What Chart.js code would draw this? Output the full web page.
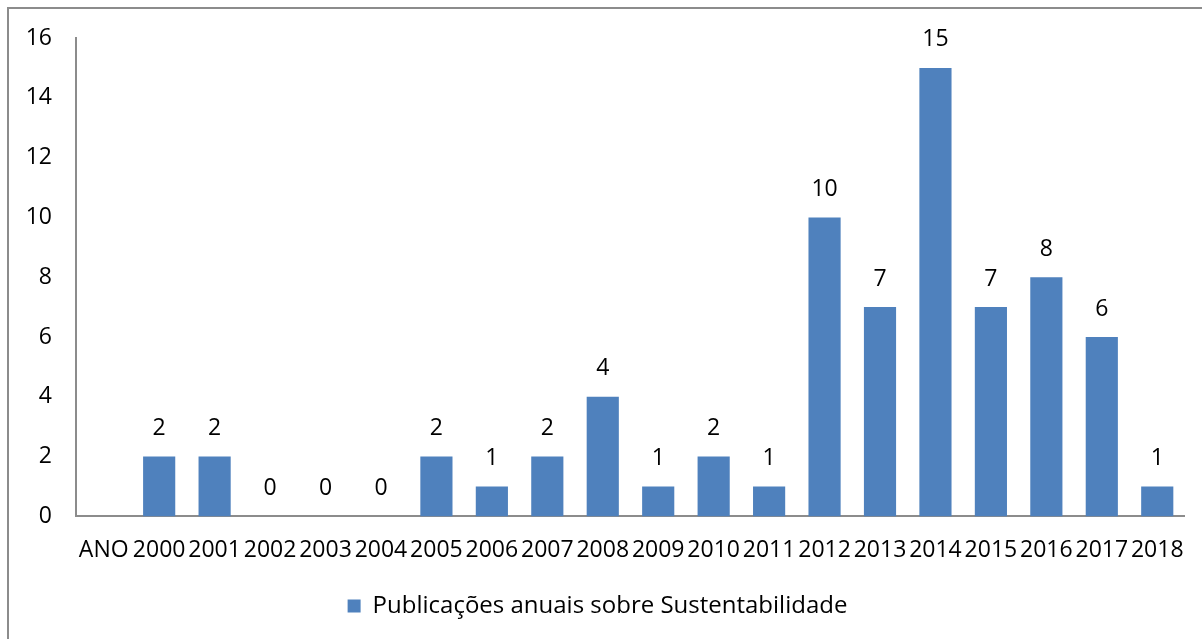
<!DOCTYPE html>
<html>
<head>
<meta charset="utf-8">
<script src="https://cdn.jsdelivr.net/npm/chart.js@4"></script>
<style>
  body { margin: 0; background: #fff; overflow: hidden; }
  #frame {
    position: absolute; left: 7px; top: 7px;
    width: 1220px; height: 660px;
    border-left: 2px solid #8c8c8c; border-top: 2px solid #8c8c8c;
  }
  canvas { display: block; }
</style>
</head>
<body>
<div id="frame"><canvas id="chart" width="1195" height="630"></canvas></div>
<script>
const years = ['ANO', '2000', '2001', '2002', '2003', '2004', '2005', '2006', '2007', '2008', '2009',
  '2010', '2011', '2012', '2013', '2014', '2015', '2016', '2017', '2018']
const publications = [null, 2, 2, 0, 0, 0, 2, 1, 2, 4, 1, 2, 1, 10, 7, 15, 7, 8, 6, 1]
const seriesName = 'Publicações anuais sobre Sustentabilidade'

const FONT = '"Open Sans", sans-serif'
const TEXT = '#000000'
const AXIS = '#8c8c8c'
const BAR = '#4f81bd'

// value labels over each bar
const barLabels = {
  id: 'barLabels',
  afterDatasetsDraw(chart) {
    const ctx = chart.ctx
    const meta = chart.getDatasetMeta(0)
    ctx.save()
    ctx.font = '23px ' + FONT
    ctx.fillStyle = TEXT
    ctx.textAlign = 'center'
    ctx.textBaseline = 'middle'
    meta.data.forEach((bar, i) => {
      const v = publications[i]
      if (v === null) return
      ctx.fillText(String(v), bar.x, bar.y - 28)
    })
    ctx.restore()
  },
}

new Chart(document.getElementById('chart'), {
  type: 'bar',
  data: {
    labels: years,
    datasets: [{
      label: seriesName,
      data: publications,
      backgroundColor: BAR,
      barPercentage: 0.58,
      categoryPercentage: 1,
    }],
  },
  options: {
    responsive: false,
    animation: false,
    layout: { padding: { top: 29, right: 18, left: 0, bottom: 11 } },
    plugins: {
      legend: {
        position: 'bottom',
        labels: {
          color: TEXT,
          font: { family: FONT, size: 24 },
          boxWidth: 13,
          boxHeight: 13,
          padding: 10,
        },
      },
      tooltip: { enabled: false },
    },
    scales: {
      x: {
        grid: { display: false, drawTicks: false },
        border: { color: AXIS, width: 2 },
        ticks: {
          color: TEXT,
          font: { family: FONT, size: 23 },
          autoSkip: false,
          maxRotation: 0,
          minRotation: 0,
          padding: 20,
        },
      },
      y: {
        min: 0,
        max: 16,
        grid: { display: false, drawTicks: false },
        border: { color: AXIS, width: 2 },
        ticks: {
          stepSize: 2,
          color: TEXT,
          font: { family: FONT, size: 23 },
          padding: 24,
        },
        afterFit: (scale) => {
          scale.width = 67
          scale.paddingTop = 0
          scale.paddingBottom = 0
        },
      },
    },
  },
  plugins: [barLabels],
})
</script>
</body>
</html>
